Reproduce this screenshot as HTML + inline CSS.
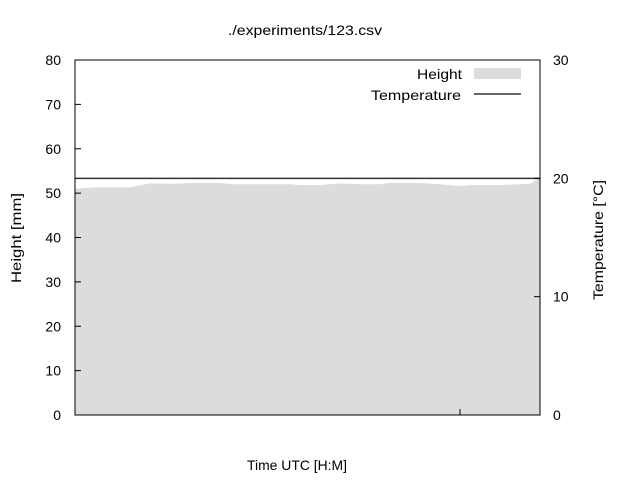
<!DOCTYPE html>
<html><head><meta charset="utf-8"><style>
body{margin:0;background:#fff;}
svg text{font-family:"Liberation Sans",sans-serif;font-size:14px;fill:#000;}
</style></head><body>
<svg width="640" height="480">
<g id="plot"></g>
</svg>
<script>
const times=[0,4,11,15,20,23,29,31,43,45,49,53,57,61,63,69,73,77,79,85,89,91,93];
const heights=[51.0,51.3,51.3,52.2,52.1,52.3,52.3,52.0,52.0,51.8,51.8,52.2,52.0,52.0,52.3,52.3,52.0,51.6,51.8,51.8,52.0,52.1,53.5];
const temps=[20.0,20.0];
const tempTimes=[0,93];
const yTicks=[0,10,20,30,40,50,60,70,80];
const y2Ticks=[0,10,20,30];
const L=75,R=540,T=60,B=415;
const sx=t=>L+(t-0)/(93-0)*(R-L);
const sy=v=>B-v/80*(B-T);
const sy2=v=>B-v/30*(B-T);
const NS="http://www.w3.org/2000/svg";
const g=document.getElementById('plot');
function mk(tag,attrs,txt){const e=document.createElementNS(NS,tag);for(const k in attrs)e.setAttribute(k,attrs[k]);if(txt!==undefined)e.textContent=txt;g.appendChild(e);return e;}
let d=`M${sx(times[0])},${B}`;
times.forEach((t,i)=>{d+=` L${sx(t)},${sy(heights[i])}`;});
d+=` L${sx(times[times.length-1])},${B} Z`;
const area=mk('path',{d:d,fill:'#dcdcdc'});


const tl=mk('line',{x1:sx(tempTimes[0]),y1:sy2(temps[0]),x2:sx(tempTimes[1]),y2:sy2(temps[1]),stroke:'#333',"stroke-width":1.5});


const fr=mk('rect',{x:L,y:T,width:R-L,height:B-T,fill:'none',stroke:'#000'});


yTicks.forEach(v=>{
 const y=sy(v);
 const tk=mk('line',{x1:L,y1:y,x2:L+6,y2:y,stroke:'#000'});
 
 
 const lb=mk('text',{x:L-14,y:y+5,"text-anchor":"end"},v);
 
 
});
y2Ticks.forEach(v=>{
 const y=sy2(v);
 const tk=mk('line',{x1:R-6,y1:y,x2:R,y2:y,stroke:'#000'});
 
 
 const lb=mk('text',{x:R+13,y:y+5,"text-anchor":"start"},v);
 
 
});
const xt=mk('line',{x1:460,y1:B,x2:460,y2:B-6,stroke:'#000'});


</script>
<svg width="640" height="480" style="position:absolute;left:0;top:0">
<text x="228" y="35" textLength="154" lengthAdjust="spacingAndGlyphs">./experiments/123.csv</text>
<text x="247" y="470" textLength="100" lengthAdjust="spacingAndGlyphs">Time UTC [H:M]</text>
<text transform="translate(21,283) rotate(-90)" textLength="90" lengthAdjust="spacingAndGlyphs">Height [mm]</text>
<text transform="translate(603,300) rotate(-90)" textLength="120" lengthAdjust="spacingAndGlyphs">Temperature [°C]</text>
<g>
<text x="417" y="79" textLength="45" lengthAdjust="spacingAndGlyphs">Height</text>
<rect x="474" y="68" width="47" height="11" fill="#dcdcdc"/>
<text x="371" y="100" textLength="90" lengthAdjust="spacingAndGlyphs">Temperature</text>
<line x1="474" y1="94" x2="521" y2="94" stroke="#333" stroke-width="1.5"/>
</g>
</svg>
</body></html>
